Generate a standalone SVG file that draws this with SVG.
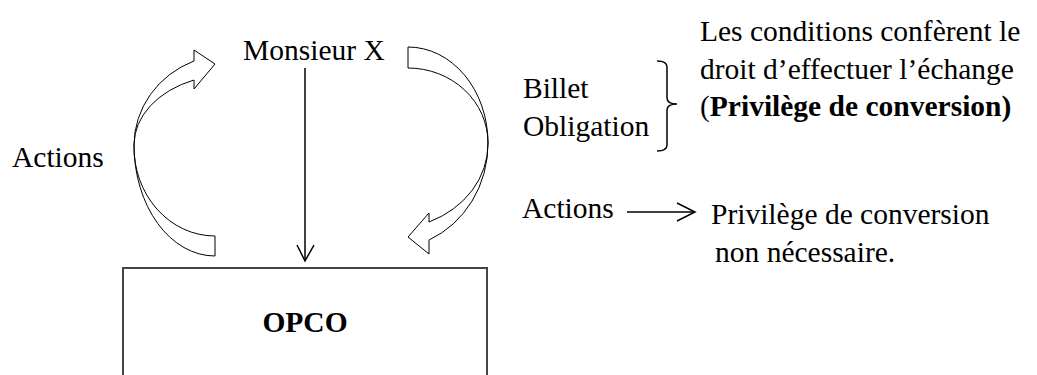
<svg xmlns="http://www.w3.org/2000/svg" width="1037" height="375" viewBox="0 0 1037 375" font-family="Liberation Serif, Times New Roman, serif">
<style>
.t{font-size:29.5px;fill:#000}
.b{font-weight:bold}
.curve{fill:#fff;stroke:#000;stroke-width:1}
.ln{fill:none;stroke:#000;stroke-width:1.5}
.box{fill:none;stroke:#444;stroke-width:2}
</style>
<rect width="1037" height="375" fill="#fff"/>
<g id="monsieur-x"><text class="t" x="243" y="60">Monsieur X</text></g>
<g id="actions-left"><text class="t" x="12" y="167">Actions</text></g>
<g id="opco">
<polyline class="box" points="123,380 123,268 487,268 487,380"/>
<text class="t b" x="305" y="332" text-anchor="middle" font-size="30">OPCO</text>
</g>
<g id="billet-obligation">
<text class="t" x="523" y="98">Billet</text>
<text class="t" x="523" y="136">Obligation</text>
</g>
<g id="conditions">
<text class="t" x="700" y="41" font-size="30">Les conditions confèrent le</text>
<text class="t" x="700" y="79" font-size="30">droit d’effectuer l’échange</text>
<text class="t" x="700" y="116" font-size="30">(<tspan class="b">Privilège de conversion)</tspan></text>
</g>
<g id="actions-right"><text class="t" x="522" y="218">Actions</text></g>
<g id="privilege">
<text class="t" x="711" y="224">Privilège de conversion</text>
<text class="t" x="715" y="262">non nécessaire.</text>
</g>
<g id="connectors">
<path class="curve" d="M215,256 A81,111 0 0 1 134,145 A96,91 0 0 1 194,61 L194,50 L215,64 L194,89 L194,80 A96,70 0 0 0 134,145 A81,89 0 0 0 215,236 Z"/>
<path class="curve" d="M408,47 A80,96 0 0 1 488,143 A98,105 0 0 1 429,240 L429,254 L408,237 L429,213 L429,222 A98,85 0 0 0 488,143 A80,75 0 0 0 408,68 Z"/>
<line class="ln" x1="305" y1="68" x2="305" y2="260"/>
<polyline class="ln" points="297,245 305,261 314,245"/>
<path class="ln" d="M657,61 Q667,61 667,67 L667,98 Q667,104 677,104 Q667,104 667,110 L667,145 Q667,151 657,151"/>
<line class="ln" x1="627" y1="212" x2="694" y2="212"/>
<polyline class="ln" points="677,203 695,212 677,221"/>
</g>
</svg>
